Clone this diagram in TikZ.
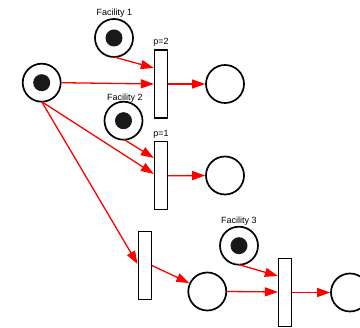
\documentclass[tikz,border=0pt]{standalone}
\usepackage{fontspec}
\setmainfont{Liberation Sans}
\usetikzlibrary{arrows.meta}
\begin{document}
\begin{tikzpicture}[x=1pt,y=-1pt,
  place/.style={circle,draw=black,line width=1.7pt,minimum size=38pt,inner sep=0pt,fill=white},
  tok/.style={circle,fill=black!90,minimum size=17pt,inner sep=0pt},
  trans/.style={rectangle,draw=black,line width=1.3pt,minimum width=13pt,minimum height=68pt,inner sep=0pt,fill=white},
  lab/.style={font=\fontsize{9}{10}\selectfont,inner sep=0pt},
  arc/.style={draw=red,line width=1.3pt,-{Triangle[length=13pt 0 0,width=9pt 0 0]}}]
\useasboundingbox (0,0) rectangle (360,328);
\begin{scope}
\clip (0,0) rectangle (360,328);
% places
\node[place] (p0) at (41.7,82.7) {};
\node[tok] at (p0) {};
\node[place] (f1) at (114,38) {};
\node[tok] at (f1) {};
\node[place] (o1) at (225,84) {};
\node[place] (f2) at (123.5,120.7) {};
\node[tok] at (f2) {};
\node[place] (o2) at (225,175.5) {};
\node[place] (pb) at (207.3,291.5) {};
\node[place] (f3) at (239,245.7) {};
\node[tok] at (f3) {};
\node[place] (pf) at (350,292.5) {};
% transitions
\node[trans] (t1) at (161,84) {};
\node[trans] (t2) at (161,175.8) {};
\node[trans] (t3) at (144.7,265.3) {};
\node[trans] (t4) at (285,292.5) {};
% labels
\node[lab] (l1) at (114.5,13.5) {Facility 1};
\node[lab] (l2) at (125,98) {Facility 2};
\node[lab] (l3) at (239,221) {Facility 3};
\node[lab] (lp2) at (161,42.5) {p=2};
\node[lab] (lp1) at (161,134) {p=1};
% arcs
\coordinate (p0b) at (41.7,101.7);
\coordinate (f1b) at (114,57);
\coordinate (f2b) at (124,139.5);
\coordinate (f3b) at (239,264.7);
\draw[arc] (f1b) -- (t1.west |- 0,68);
\draw[arc] (p0.east) -- (t1.west |- 0,84);
\draw[arc] (t1.east) -- (o1.west);
\draw[arc] (f2b) -- (t2.west |- 0,158);
\draw[arc] (p0b) -- (t2.west |- 0,174);
\draw[arc] (t2.east) -- (o2.west);
\draw[arc] (p0b) -- (t3.west |- 0,264);
\draw[arc] (t3.east |- 0,265.5) -- (pb);
\draw[arc] (f3b) -- (t4.west |- 0,276);
\draw[arc] (pb.east) -- (t4.west |- 0,292);
\draw[arc] (t4.east) -- (pf.west);
\end{scope}
\end{tikzpicture}
\end{document}
